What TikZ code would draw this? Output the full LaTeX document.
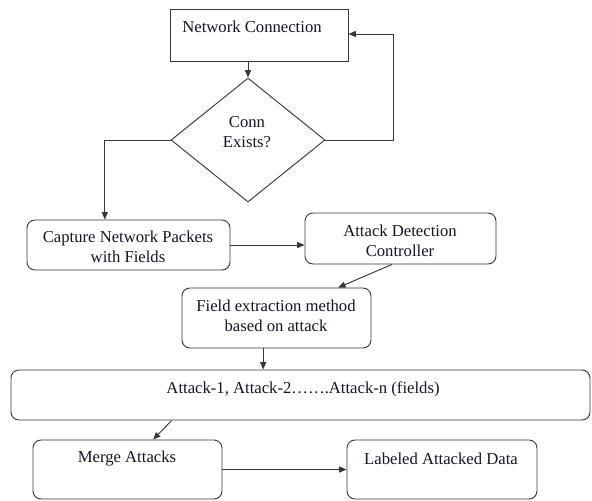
\documentclass[tikz,border=0pt]{standalone}
\usepackage{fontspec}
\setmainfont{Liberation Serif}
\usetikzlibrary{shapes.geometric,arrows.meta,calc,fit,positioning}

\begin{document}
\begin{tikzpicture}[x=0.75pt, y=-0.75pt, line width=0.7pt]
		% Definición de colores
		\definecolor{linea}{RGB}{55, 55, 55}   % Gris oscuro de bordes y flechas
		\definecolor{texto}{RGB}{20, 20, 35}   % Casi negro para el texto
		
		% Estilos
		\tikzset{
			caja/.style={draw=linea, inner sep=0pt},
			cajar/.style={caja, rounded corners=6pt},
			rombo/.style={draw=linea, diamond, inner sep=0pt, minimum width=115.5pt, minimum height=93pt},
			txt/.style={text=texto, font=\fontsize{12.5}{15}\selectfont, align=center},
			flecha/.style={draw=linea, -{Triangle[length=5.5pt, width=4.5pt]}}
		}
		
		% Marco de la figura
		\useasboundingbox (0,0) rectangle (592,500);
		
		% --- Cajas ---
		\node[caja, fit={(170,9) (348,61)}] (net) {};
		\node[rombo] (cond) at (248,140) {};
		\node[cajar, fit={(27,220) (230,270)}] (capture) {};
		\node[cajar, fit={(305,213) (496,264)}] (adc) {};
		\node[cajar, fit={(182,288) (371,348)}] (field) {};
		\node[cajar, fit={(11,370) (590,420)}] (attacks) {};
		\node[cajar, fit={(33,440) (222,499)}] (merge) {};
		\node[cajar, fit={(347,440) (537,499)}] (labeled) {};
		
		% --- Textos ---
		\node[txt] (tnet) at (252,27) {Network Connection};
		\node[txt] (tcond) at (247,132) {Conn\\Exists?};
		\node[txt] (tcapture) at (128,247) {Capture Network Packets\\with Fields};
		\node[txt] (tadc) at (400,241) {Attack Detection\\Controller};
		\node[txt] (tfield) at (276,316) {Field extraction method\\based on attack};
		\node[txt] (tattacks) at (303,389) {Attack-1, Attack-2\dots\dots.Attack-n (fields)};
		\node[txt] (tmerge) at (127,459) {Merge Attacks};
		\node[txt] (tlabeled) at (441,459) {Labeled Attacked Data};
		
		% --- Puntos auxiliares ---
		\coordinate (loop) at (393,34);
		\coordinate (capin) at ($(capture.north west)!0.384!(capture.north east)$);
		\coordinate (adcout) at ($(adc.south west)!0.455!(adc.south east)$);
		\coordinate (fieldin) at ($(field.north)!0.65!(field.north east)$);
		\coordinate (fieldout) at ($(field.south west)!0.43!(field.south east)$);
		\coordinate (attout) at ($(attacks.south west)!0.278!(attacks.south east)$);
		\coordinate (mergein) at ($(merge.north west)!0.635!(merge.north east)$);
		
		% --- Flechas ---
		\draw[flecha] (cond.north |- net.south) -- (cond.north);
		\draw[flecha] (cond.east) -| (loop) -- (loop -| net.east);
		\draw[flecha] (cond.west) -| (capin);
		\draw[flecha] (capture.east) -- (capture.east -| adc.west);
		\draw[flecha] (adcout) -- (fieldin);
		\draw[flecha] (fieldout) -- (fieldout |- attacks.north);
		\draw[flecha] (attout) -- (mergein);
		\draw[flecha] (merge.east) -- (labeled.west);
		
	\end{tikzpicture}
\end{document}
